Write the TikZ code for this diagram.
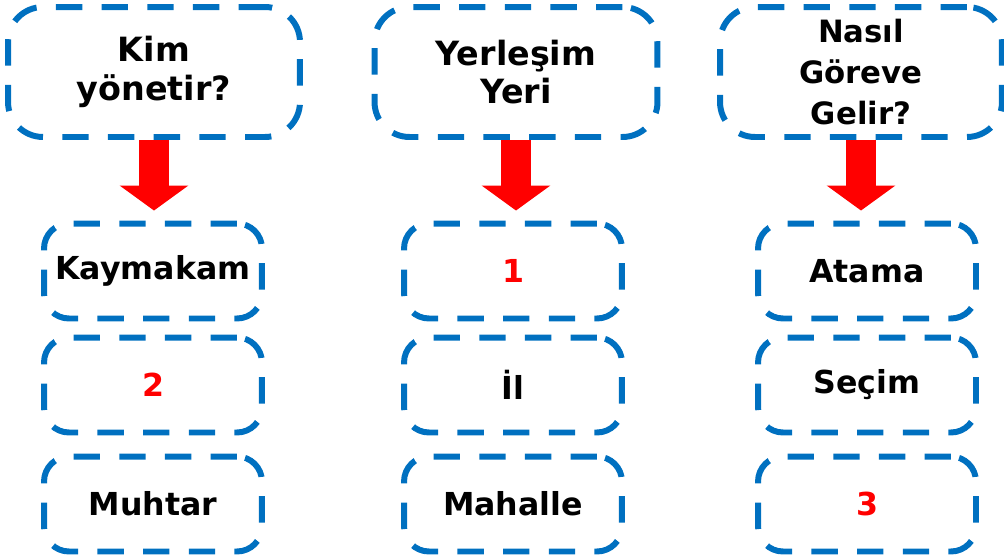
\documentclass[tikz,border=0pt]{standalone}
\usepackage{fontspec}
\setmainfont{DejaVu Sans}
\usetikzlibrary{arrows.meta}
\definecolor{kesik}{RGB}{0,112,192}
\tikzset{
  soru/.style={draw=kesik, line width=3.4pt, dash pattern=on 15pt off 11pt,
    rounded corners=0.7cm, minimum width=5.7cm, minimum height=2.6cm,
    align=center, font=\bfseries\fontsize{19}{22}\selectfont},
  kutu/.style={draw=kesik, line width=3.4pt, dash pattern=on 15pt off 11pt,
    rounded corners=0.5cm, minimum width=4.36cm, minimum height=1.9cm,
    font=\bfseries\fontsize{18}{22}\selectfont},
  cevap/.style={text=red},
  okbuyuk/.style={draw=red, line width=0.6cm, shorten >=0.2cm,
    -{Triangle[width=1.35cm,length=0.5cm]}}
}
\begin{document}
\begin{tikzpicture}[x=0.02cm,y=-0.02cm]
\useasboundingbox (0,0) rectangle (1004,558);
% edit here for the questions
\node[soru, minimum width=5.84cm] (s1) at (154,72) {Kim\\yönetir?};
\node[soru, minimum width=5.66cm] (s2) at (516,72) {Yerleşim\\Yeri};
\node[soru, minimum width=5.64cm, font=\bfseries\fontsize{17.5}{23.5}\selectfont]
  (s3) at (861,72) {Nasıl\\Göreve\\Gelir?};
% edit here for the answers
\foreach \c/\x in {1/153, 2/513, 3/867}
  \foreach \r/\y in {1/271, 2/385, 3/504}
    \node[kutu] (k\c\r) at (\x,\y) {};
\node at (k11) [font=\bfseries\fontsize{18}{22}\selectfont] {Kaymakam};
\node at (k12) [cevap, font=\bfseries\fontsize{18}{22}\selectfont] {2};
\node at (k13) [font=\bfseries\fontsize{18}{22}\selectfont] {Muhtar};
\node at (k21) [cevap, font=\bfseries\fontsize{18}{22}\selectfont] {1};
\node at (k22) [font=\bfseries\fontsize{18}{22}\selectfont] {İl};
\node at (k23) [font=\bfseries\fontsize{18}{22}\selectfont] {Mahalle};
\node at (k31) [font=\bfseries\fontsize{18}{22}\selectfont] {Atama};
\node at (k32) [font=\bfseries\fontsize{18}{22}\selectfont] {Seçim};
\node at (k33) [cevap, font=\bfseries\fontsize{18}{22}\selectfont] {3};
% red arrows
\foreach \c in {1,2,3}
  \draw[okbuyuk] (s\c.south) -- (s\c.south |- k\c1.north);
\end{tikzpicture}
\end{document}
